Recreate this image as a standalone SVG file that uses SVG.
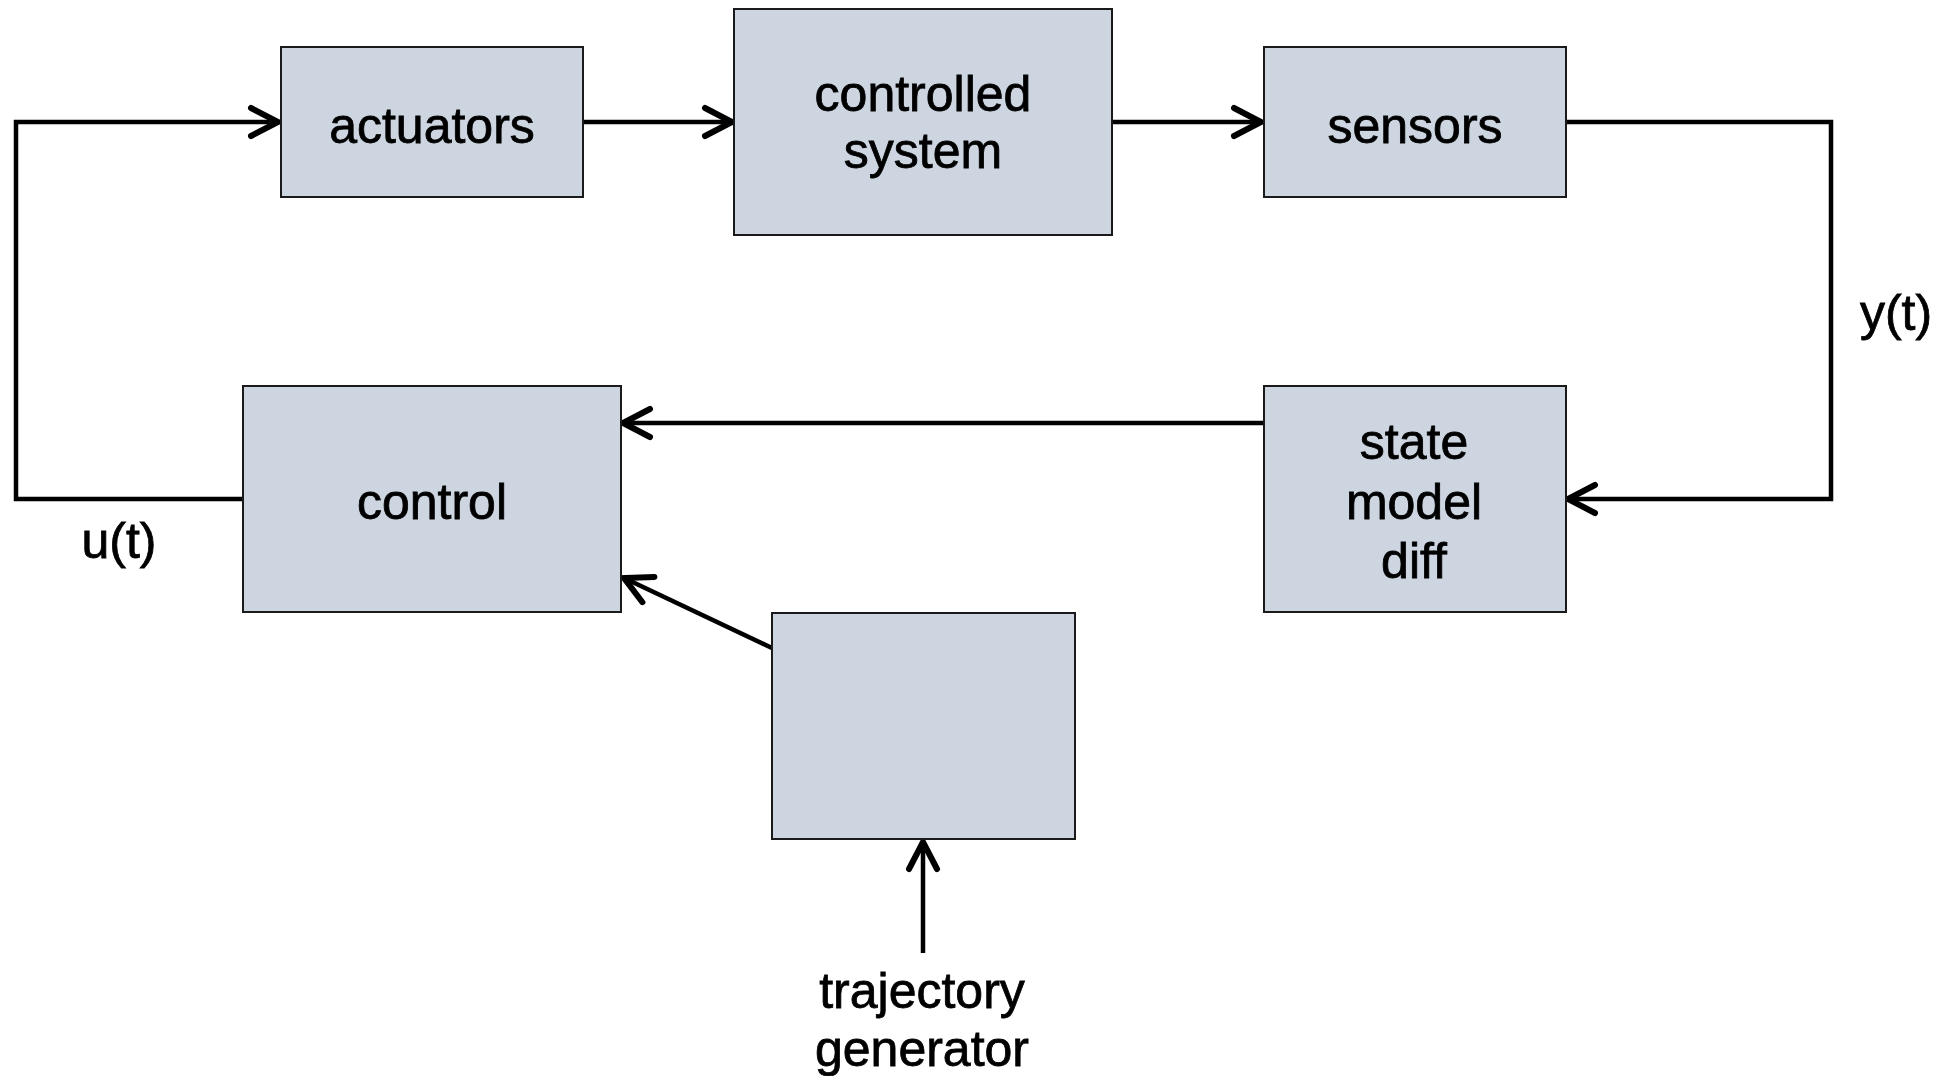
<svg xmlns="http://www.w3.org/2000/svg" width="1944" height="1076" viewBox="0 0 1944 1076">
  <style>
    .box { fill: #CDD5E1; stroke: #1a1a1a; stroke-width: 2; }
    .lbl { font-family: "Liberation Sans", Arial, Helvetica, sans-serif; font-size: 50px; fill: #000; stroke: #000; stroke-width: 0.8; text-anchor: middle; }
    .wire { fill: none; stroke: #000; stroke-width: 4.5; stroke-linejoin: miter; stroke-linecap: butt; }
  </style>
  <defs>
    <marker id="arr" markerUnits="userSpaceOnUse" markerWidth="40" markerHeight="40" viewBox="-32 -20 36 40" refX="0" refY="0" orient="auto" overflow="visible">
      <path d="M-27,-14 L0,0 L-27,14" fill="none" stroke="#000" stroke-width="6" stroke-linecap="round" stroke-linejoin="miter"/>
    </marker>
  </defs>
  <rect width="1944" height="1076" fill="#fff"/>

  <g id="connectors">
    <path class="wire" d="M243,499 H16 V122 H278" marker-end="url(#arr)"/>
    <path class="wire" d="M584,122 H732" marker-end="url(#arr)"/>
    <path class="wire" d="M1113,122 H1261" marker-end="url(#arr)"/>
    <path class="wire" d="M1567,122 H1831 V499 H1568" marker-end="url(#arr)"/>
    <path class="wire" d="M1263,423 H623" marker-end="url(#arr)"/>
    <path class="wire" d="M772,648 L624,578" marker-end="url(#arr)"/>
    <path class="wire" d="M923,953 V842" marker-end="url(#arr)"/>
  </g>

  <g id="actuators">
    <rect class="box" x="281" y="47" width="302" height="150"/>
    <text class="lbl" x="432" y="143">actuators</text>
  </g>
  <g id="controlled-system">
    <rect class="box" x="734" y="9" width="378" height="226"/>
    <text class="lbl" x="923" y="111">controlled</text>
    <text class="lbl" x="923" y="168">system</text>
  </g>
  <g id="sensors">
    <rect class="box" x="1264" y="47" width="302" height="150"/>
    <text class="lbl" x="1415" y="143">sensors</text>
  </g>
  <g id="control">
    <rect class="box" x="243" y="386" width="378" height="226"/>
    <text class="lbl" x="432" y="519">control</text>
  </g>
  <g id="state-model-diff">
    <rect class="box" x="1264" y="386" width="302" height="226"/>
    <text class="lbl" x="1414" y="459">state</text>
    <text class="lbl" x="1414" y="519">model</text>
    <text class="lbl" x="1414" y="578">diff</text>
  </g>
  <g id="trajectory-block">
    <rect class="box" x="772" y="613" width="303" height="226"/>
  </g>
  <g id="labels">
    <text class="lbl" x="119" y="558">u(t)</text>
    <text class="lbl" x="1896" y="330">y(t)</text>
    <text class="lbl" x="922" y="1008">trajectory</text>
    <text class="lbl" x="922" y="1066">generator</text>
  </g>
</svg>
